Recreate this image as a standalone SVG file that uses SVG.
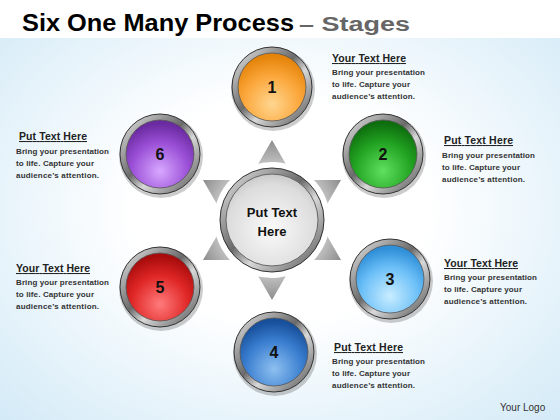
<svg xmlns="http://www.w3.org/2000/svg" width="560" height="420" viewBox="0 0 560 420">
<defs>
<radialGradient id="bg" cx="0.5" cy="0.5" r="0.75">
<stop offset="0.35" stop-color="#ffffff"/>
<stop offset="1" stop-color="#cfe8f6"/>
</radialGradient>
<linearGradient id="ring" x1="0" y1="0" x2="1" y2="1">
<stop offset="0" stop-color="#eeeeee"/>
<stop offset="0.45" stop-color="#6a6a6a"/>
<stop offset="0.6" stop-color="#d8d8d8"/>
<stop offset="1" stop-color="#4a4a4a"/>
</linearGradient>
<radialGradient id="tri" cx="272" cy="220" r="80" gradientUnits="userSpaceOnUse">
<stop offset="0.6" stop-color="#d4d4d4"/>
<stop offset="1" stop-color="#8c8c8c"/>
</radialGradient>
<radialGradient id="gO" cx="0.5" cy="0.75" r="0.7"><stop offset="0" stop-color="#ffd690"/><stop offset="0.6" stop-color="#fba63a"/><stop offset="1" stop-color="#e5840a"/></radialGradient>
<radialGradient id="gG" cx="0.5" cy="0.75" r="0.7"><stop offset="0" stop-color="#5fe05f"/><stop offset="0.6" stop-color="#22a322"/><stop offset="1" stop-color="#0e6e0e"/></radialGradient>
<radialGradient id="gL" cx="0.5" cy="0.75" r="0.7"><stop offset="0" stop-color="#c8ecff"/><stop offset="0.6" stop-color="#6cc0f8"/><stop offset="1" stop-color="#2f8fd8"/></radialGradient>
<radialGradient id="gB" cx="0.5" cy="0.75" r="0.7"><stop offset="0" stop-color="#8ec0f0"/><stop offset="0.6" stop-color="#3a7ed0"/><stop offset="1" stop-color="#174f9a"/></radialGradient>
<radialGradient id="gR" cx="0.5" cy="0.75" r="0.7"><stop offset="0" stop-color="#ff7a7a"/><stop offset="0.6" stop-color="#e02626"/><stop offset="1" stop-color="#a80c0c"/></radialGradient>
<radialGradient id="gP" cx="0.5" cy="0.75" r="0.7"><stop offset="0" stop-color="#d8a8ff"/><stop offset="0.6" stop-color="#9a4fd6"/><stop offset="1" stop-color="#6a2aa0"/></radialGradient>
<radialGradient id="gC" cx="0.5" cy="0.6" r="0.7"><stop offset="0" stop-color="#fafafa"/><stop offset="0.7" stop-color="#dcdcdc"/><stop offset="1" stop-color="#b8b8b8"/></radialGradient>
</defs>
<style>
.num{font-family:"Liberation Sans",Arial,sans-serif;font-weight:bold;font-size:16px;fill:#111;text-anchor:middle}
.hd{font-family:"Liberation Sans",Arial,sans-serif;font-weight:bold;font-size:10.5px;fill:#222;text-decoration:underline}
.bd{font-family:"Liberation Sans",Arial,sans-serif;font-weight:bold;font-size:8px;fill:#333}
.ring{fill:url(#ring);stroke:#333;stroke-width:1}
.shadow{fill:#000;opacity:0.2}
</style>
<rect x="0" y="0" width="560" height="420" fill="url(#bg)"/>
<rect x="0" y="0" width="560" height="38" fill="#ffffff"/>
<text x="22" y="31" font-family="Liberation Sans,Arial,sans-serif" font-weight="bold" font-size="23" fill="#000" textLength="272" lengthAdjust="spacingAndGlyphs">Six One Many Process</text>
<text x="299" y="31" font-family="Liberation Sans,Arial,sans-serif" font-weight="bold" font-size="20" fill="#666" textLength="111" lengthAdjust="spacingAndGlyphs">– Stages</text>

<g id="connectors">
<polygon points="272,140 341,260 203,260" fill="url(#tri)"/>
<polygon points="272,300 341,180 203,180" fill="url(#tri)"/>
</g>

<g id="center">
<circle cx="272" cy="220" r="58" fill="#ffffff"/>
<circle cx="272" cy="220" r="52" class="ring"/>
<circle cx="272" cy="220" r="46" fill="url(#gC)" stroke="#666" stroke-width="1"/>
<text x="272" y="217" font-family="Liberation Sans,Arial,sans-serif" font-weight="bold" font-size="13" fill="#111" text-anchor="middle">Put Text</text>
<text x="272" y="236" font-family="Liberation Sans,Arial,sans-serif" font-weight="bold" font-size="13" fill="#111" text-anchor="middle">Here</text>
</g>

<g id="n1">
<circle cx="273" cy="89" r="42" class="shadow"/>
<circle cx="272" cy="87" r="40" class="ring"/>
<circle cx="272" cy="87" r="34" fill="url(#gO)" stroke="#555" stroke-width="0.8"/>
<text x="272" y="93" class="num">1</text>
</g>
<g id="n2">
<circle cx="384" cy="156" r="42" class="shadow"/>
<circle cx="383" cy="154" r="40" class="ring"/>
<circle cx="383" cy="154" r="34" fill="url(#gG)" stroke="#555" stroke-width="0.8"/>
<text x="383" y="160" class="num">2</text>
</g>
<g id="n3">
<circle cx="391" cy="281" r="42" class="shadow"/>
<circle cx="390" cy="279" r="40" class="ring"/>
<circle cx="390" cy="279" r="34" fill="url(#gL)" stroke="#555" stroke-width="0.8"/>
<text x="390" y="285" class="num">3</text>
</g>
<g id="n4">
<circle cx="275" cy="354" r="42" class="shadow"/>
<circle cx="274" cy="352" r="40" class="ring"/>
<circle cx="274" cy="352" r="34" fill="url(#gB)" stroke="#555" stroke-width="0.8"/>
<text x="274" y="358" class="num">4</text>
</g>
<g id="n5">
<circle cx="161" cy="289" r="42" class="shadow"/>
<circle cx="160" cy="287" r="40" class="ring"/>
<circle cx="160" cy="287" r="34" fill="url(#gR)" stroke="#555" stroke-width="0.8"/>
<text x="160" y="293" class="num">5</text>
</g>
<g id="n6">
<circle cx="161" cy="156" r="42" class="shadow"/>
<circle cx="160" cy="154" r="40" class="ring"/>
<circle cx="160" cy="154" r="34" fill="url(#gP)" stroke="#555" stroke-width="0.8"/>
<text x="160" y="160" class="num">6</text>
</g>

<g id="t1">
<text x="332" y="62" class="hd" textLength="74">Your Text Here</text>
<text x="332" y="75" class="bd" textLength="93">Bring your presentation</text>
<text x="332" y="87" class="bd" textLength="78">to life. Capture your</text>
<text x="332" y="99" class="bd" textLength="83">audience’s attention.</text>
</g>
<g id="t2">
<text x="444" y="144" class="hd" textLength="69">Put Text Here</text>
<text x="442" y="158" class="bd" textLength="93">Bring your presentation</text>
<text x="442" y="170" class="bd" textLength="78">to life. Capture your</text>
<text x="442" y="182" class="bd" textLength="83">audience’s attention.</text>
</g>
<g id="t3">
<text x="444" y="267" class="hd" textLength="74">Your Text Here</text>
<text x="444" y="280" class="bd" textLength="93">Bring your presentation</text>
<text x="444" y="292" class="bd" textLength="78">to life. Capture your</text>
<text x="444" y="304" class="bd" textLength="83">audience’s attention.</text>
</g>
<g id="t4">
<text x="334" y="351" class="hd" textLength="69">Put Text Here</text>
<text x="332" y="364" class="bd" textLength="93">Bring your presentation</text>
<text x="332" y="376" class="bd" textLength="78">to life. Capture your</text>
<text x="332" y="388" class="bd" textLength="83">audience’s attention.</text>
</g>
<g id="t5">
<text x="16" y="272" class="hd" textLength="74">Your Text Here</text>
<text x="16" y="285" class="bd" textLength="93">Bring your presentation</text>
<text x="16" y="297" class="bd" textLength="78">to life. Capture your</text>
<text x="16" y="309" class="bd" textLength="83">audience’s attention.</text>
</g>
<g id="t6">
<text x="19" y="140" class="hd" textLength="68">Put Text Here</text>
<text x="16" y="154" class="bd" textLength="93">Bring your presentation</text>
<text x="16" y="166" class="bd" textLength="78">to life. Capture your</text>
<text x="16" y="178" class="bd" textLength="83">audience’s attention.</text>
</g>
<text x="500" y="411" font-family="Liberation Sans,Arial,sans-serif" font-size="10" fill="#333">Your Logo</text>
</svg>
